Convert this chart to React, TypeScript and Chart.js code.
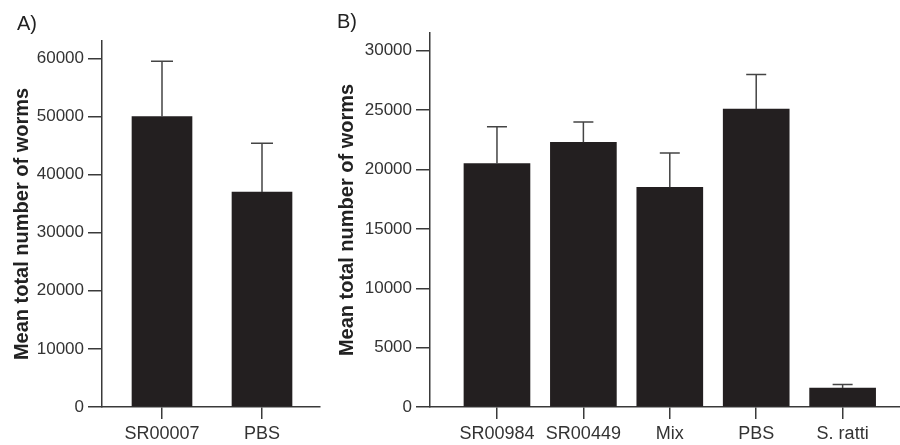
import React, { useEffect, useRef } from 'react';
import { Chart, registerables } from 'chart.js';

Chart.register(...registerables);

// Panel A data
const categoriesA = ['SR00007', 'PBS'];
const meansA = [50000, 37000];
const semA = [9500, 8400];
const yTicksA = [0, 10000, 20000, 30000, 40000, 50000, 60000];

// Panel B data
const categoriesB = ['SR00984', 'SR00449', 'Mix', 'PBS', 'S. ratti'];
const meansB = [20500, 22300, 18500, 25100, 1600];
const semB = [3100, 1700, 2900, 2900, 300];
const yTicksB = [0, 5000, 10000, 15000, 20000, 25000, 30000];

const yTitle = 'Mean total number of worms';
const FONT = '"Liberation Sans", Arial, Helvetica, sans-serif';
const AXIS = '#3a3a3a';
const BAR = '#231f20';

const errorBarPlugin = {
  id: 'errorBars',
  afterDatasetsDraw(chart: any, _args: any, opts: any) {
    const ctx = chart.ctx;
    const meta = chart.getDatasetMeta(0);
    const ys = chart.scales.y;
    const data = chart.data.datasets[0].data as any[];
    ctx.save();
    ctx.strokeStyle = opts.color || '#444';
    ctx.lineWidth = opts.lineWidth || 1.5;
    meta.data.forEach((el: any, i: number) => {
      const v = data[i].y;
      const e = opts.errors[i];
      const x = el.x;
      const top = ys.getPixelForValue(v);
      const et = ys.getPixelForValue(v + e);
      ctx.beginPath();
      ctx.moveTo(x, top);
      ctx.lineTo(x, et);
      ctx.moveTo(x - opts.cap / 2, et);
      ctx.lineTo(x + opts.cap / 2, et);
      ctx.stroke();
    });
    ctx.restore();
  },
};

type PanelProps = {
  cats: string[];
  means: number[];
  sems: number[];
  yTicks: number[];
  yMax: number;
  xMin: number;
  xMax: number;
  barW: number;
  capW: number;
  width: number;
  padL: number;
  yW: number;
  padTop: number;
  padR: number;
};

function Panel(p: PanelProps) {
  const ref = useRef<HTMLCanvasElement | null>(null);
  useEffect(() => {
    if (!ref.current) return;
    const chart = new Chart(ref.current, {
      type: 'bar',
      data: {
        datasets: [
          {
            data: p.means.map((v, i) => ({ x: i, y: v })),
            backgroundColor: BAR,
            borderWidth: 0,
            barThickness: p.barW,
          } as any,
        ],
      },
      plugins: [errorBarPlugin],
      options: {
        animation: false,
        responsive: false,
        layout: { padding: { left: p.padL, top: p.padTop, right: p.padR, bottom: 0 } },
        plugins: {
          legend: { display: false },
          tooltip: { enabled: false },
          errorBars: { errors: p.sems, cap: p.capW, color: '#444', lineWidth: 1.5 },
        } as any,
        scales: {
          x: {
            type: 'linear',
            min: p.xMin,
            max: p.xMax,
            offset: false,
            grid: {
              display: true,
              drawOnChartArea: false,
              drawTicks: true,
              tickLength: 12,
              offset: false,
              color: AXIS,
              lineWidth: 1.5,
            },
            border: { display: true, color: AXIS, width: 1.5 },
            ticks: {
              color: '#333',
              font: { family: FONT, size: 18 },
              padding: 4,
              autoSkip: false,
              maxRotation: 0,
              callback: (v: any) => p.cats[v as number] ?? '',
            },
            afterBuildTicks: (s: any) => {
              s.ticks = p.cats.map((_, i) => ({ value: i }));
            },
            afterFit: (s: any) => {
              s.height = 38;
            },
          },
          y: {
            min: 0,
            max: p.yMax,
            grid: {
              display: true,
              drawOnChartArea: false,
              drawTicks: true,
              tickLength: 14,
              color: AXIS,
              lineWidth: 1.5,
            },
            border: { display: true, color: AXIS, width: 1.5 },
            ticks: {
              color: '#333',
              font: { family: FONT, size: 17 },
              padding: 4,
              autoSkip: false,
              callback: (v: any) => String(v),
            },
            afterBuildTicks: (s: any) => {
              s.ticks = p.yTicks.map((v) => ({ value: v }));
            },
            afterFit: (s: any) => {
              s.width = p.yW;
            },
            title: {
              display: true,
              text: yTitle,
              color: '#222',
              font: { family: FONT, size: 20, weight: 'bold' },
              padding: 0,
            },
          },
        },
      } as any,
    });
    return () => chart.destroy();
  }, []);
  return <canvas ref={ref} width={p.width} height={445} style={{ display: 'block' }} />;
}

export default function App() {
  return (
    <div style={{ position: 'absolute', left: 0, top: 0, width: 900, height: 445, background: '#fff', overflow: 'hidden' }}>
      <div style={{ position: 'absolute', left: 0, top: 0 }}>
        <Panel
          cats={categoriesA}
          means={meansA}
          sems={semA}
          yTicks={yTicksA}
          yMax={63000}
          xMin={-0.6}
          xMax={1.58}
          barW={60}
          capW={22}
          width={325}
          padL={10}
          yW={92}
          padTop={41}
          padR={5}
        />
      </div>
      <div style={{ position: 'absolute', left: 325, top: 0 }}>
        <Panel
          cats={categoriesB}
          means={meansB}
          sems={semB}
          yTicks={yTicksB}
          yMax={31500}
          xMin={-0.775}
          xMax={4.664}
          barW={66}
          capW={20}
          width={575}
          padL={10}
          yW={95}
          padTop={33}
          padR={0}
        />
      </div>
      <div style={{ position: 'absolute', left: 17, top: 13, fontFamily: FONT, fontSize: 20, lineHeight: '20px', color: '#222' }}>A)</div>
      <div style={{ position: 'absolute', left: 337, top: 11, fontFamily: FONT, fontSize: 20, lineHeight: '20px', color: '#222' }}>B)</div>
    </div>
  );
}
